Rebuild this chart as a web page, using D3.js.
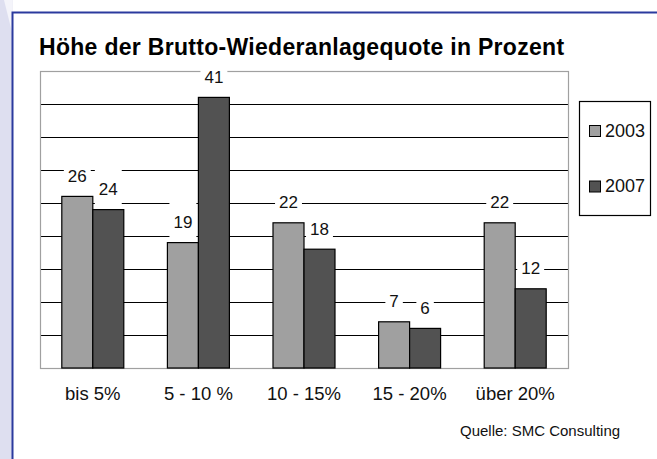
<!DOCTYPE html>
<html><head><meta charset="utf-8">
<script src="https://cdn.jsdelivr.net/npm/d3@7"></script>
<style>
html,body{margin:0;padding:0;background:#fff;}
svg{display:block;font-family:"Liberation Sans",Arial,sans-serif;}
</style></head>
<body>
<script>
const title = "Höhe der Brutto-Wiederanlagequote in Prozent";
const categories = ["bis 5%", "5 - 10 %", "10 - 15%", "15 - 20%", "über 20%"];
const seriesNames = ["2003", "2007"];
const values2003 = [26, 19, 22, 7, 22];
const values2007 = [24, 41, 18, 6, 12];
const yTicks = [0, 5, 10, 15, 20, 25, 30, 35, 40, 45];
const source = "Quelle: SMC Consulting";
const colors = ["#a0a0a0", "#525252"];

const W = 657, H = 459;
const svg = d3.select("body").append("svg").attr("width", W).attr("height", H);

// frame decoration
svg.append("rect").attr("x",0).attr("y",0).attr("width",W).attr("height",H).attr("fill","#fff");
svg.append("rect").attr("x",0).attr("y",0).attr("width",12.5).attr("height",H).attr("fill","#dedff0");
svg.append("path").attr("d","M4,0 L12.5,0 L12.5,34 Z").attr("fill","#f4f4fa");
svg.append("path").attr("d","M12.5,459 L12.5,12.5 L657,12.5").attr("fill","none").attr("stroke","#2b3a9e").attr("stroke-width",2);

const plot = {l:40, r:568, t:71, b:368};

const x0 = d3.scaleBand().domain(categories).range([plot.l, plot.r]).paddingInner(0.413).paddingOuter(0.2065);
const x1 = d3.scaleBand().domain(seriesNames).range([0, x0.bandwidth()]);
const y = d3.scaleLinear().domain([0, 45]).range([plot.b, plot.t]);

// title
svg.append("text").attr("x",39).attr("y",55).attr("font-size",23).attr("font-weight","bold")
  .attr("letter-spacing","0.3px").attr("fill","#000").text(title);

// gridlines
svg.append("g").selectAll("line").data(yTicks.filter(d => d > 0 && d < 45)).join("line")
  .attr("x1",plot.l).attr("x2",plot.r).attr("y1",d=>Math.round(y(d))+0.5).attr("y2",d=>Math.round(y(d))+0.5)
  .attr("stroke","#000").attr("stroke-width",1);
// plot box
svg.append("rect").attr("x",plot.l+0.5).attr("y",plot.t+0.5).attr("width",plot.r-plot.l).attr("height",plot.b-plot.t)
  .attr("fill","none").attr("stroke","#a0a0a0").attr("stroke-width",1.2);

const data = categories.map((c,i)=>({cat:c, vals:[{s:"2003",v:values2003[i],k:0},{s:"2007",v:values2007[i],k:1}]}));

const groups = svg.append("g").selectAll("g").data(data).join("g")
  .attr("transform", d=>`translate(${x0(d.cat)},0)`);
groups.selectAll("rect").data(d=>d.vals).join("rect")
  .attr("x", d=>x1(d.s)).attr("width", x1.bandwidth())
  .attr("y", d=>y(d.v)).attr("height", d=>y(0)-y(d.v))
  .attr("fill", d=>colors[d.k]).attr("stroke","#000").attr("stroke-width",1.2);

// data labels with white background
const lab = svg.append("g");
data.forEach(g => {
  g.vals.forEach(d => {
    const cx = x0(g.cat) + x1(d.s) + x1.bandwidth()/2;
    const top = y(d.v);
    const bg = lab.append("rect").attr("fill","#fff");
    const t = lab.append("text").attr("x",cx).attr("y",top-14.5).attr("text-anchor","middle")
      .attr("font-size",17).attr("fill","#111").text(d.v);
    const w = t.node().getComputedTextLength() + 8;
    bg.attr("x",cx-w/2).attr("width",w).attr("y",top-40.5).attr("height",35.5);
  });
});

// category labels
svg.append("g").selectAll("text").data(categories).join("text")
  .attr("x", d=>x0(d)+x0.bandwidth()/2).attr("y",400).attr("text-anchor","middle")
  .attr("font-size",18.5).attr("fill","#111").text(d=>d);

// legend
svg.append("rect").attr("x",579.5).attr("y",101.5).attr("width",71).attr("height",114)
  .attr("fill","#fff").attr("stroke","#000").attr("stroke-width",1.2);
const legY = [125.5, 181];
const leg = svg.append("g").selectAll("g").data(seriesNames).join("g")
  .attr("transform",(d,i)=>`translate(589.5,${legY[i]})`);
leg.append("rect").attr("width",11).attr("height",11).attr("fill",(d,i)=>colors[i]).attr("stroke","#000").attr("stroke-width",1);
leg.append("text").attr("x",15.5).attr("y",11).attr("font-size",18).attr("fill","#111").text(d=>d);

// source
svg.append("text").attr("x",460).attr("y",436).attr("font-size",15).attr("fill","#111").text(source);
</script>
</body></html>
